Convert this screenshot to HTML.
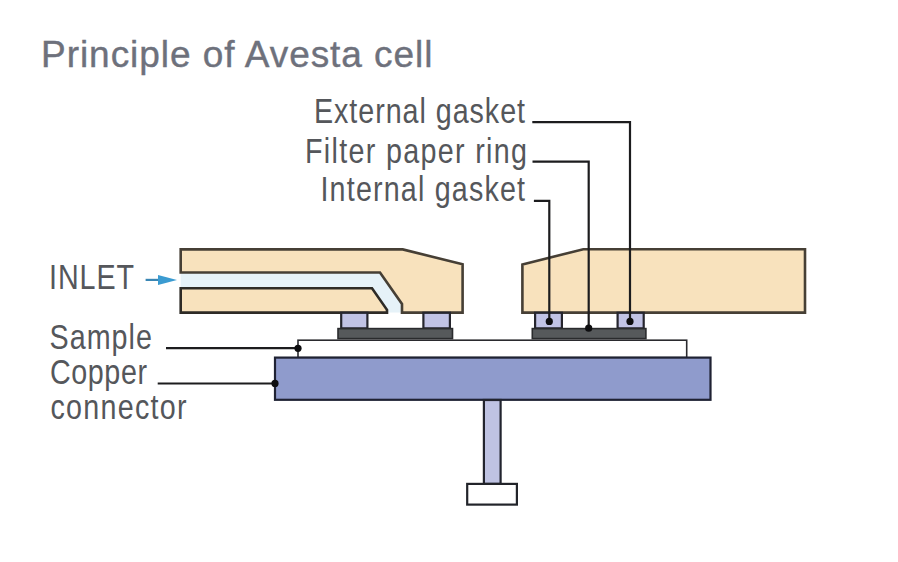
<!DOCTYPE html>
<html><head><meta charset="utf-8">
<style>
html,body{margin:0;padding:0;background:#fff;width:898px;height:562px;overflow:hidden}
svg{display:block}
text{font-family:"Liberation Sans",sans-serif}
</style></head>
<body>
<svg width="898" height="562" viewBox="0 0 898 562">
<rect width="898" height="562" fill="#ffffff"/>
<g fill="#6e717c" stroke="#6e717c" stroke-width="0.4">
<g transform="translate(41.00,66.70) scale(1.0,1)"><text x="0" y="0" font-size="37" textLength="391.50" lengthAdjust="spacing">Principle of Avesta cell</text></g>
</g>
<g fill="#55575b">
<g transform="translate(314.00,122.60) scale(0.82,1)"><text x="0" y="0" font-size="35" textLength="257.32" lengthAdjust="spacing">External gasket</text></g>
<g transform="translate(305.00,162.50) scale(0.82,1)"><text x="0" y="0" font-size="35" textLength="270.73" lengthAdjust="spacing">Filter paper ring</text></g>
<g transform="translate(320.50,201.00) scale(0.82,1)"><text x="0" y="0" font-size="35" textLength="249.39" lengthAdjust="spacing">Internal gasket</text></g>
<g transform="translate(49.00,288.50) scale(0.82,1)"><text x="0" y="0" font-size="35" textLength="103.66" lengthAdjust="spacing">INLET</text></g>
<g transform="translate(49.50,348.50) scale(0.82,1)"><text x="0" y="0" font-size="35" textLength="125.00" lengthAdjust="spacing">Sample</text></g>
<g transform="translate(50.00,384.40) scale(0.82,1)"><text x="0" y="0" font-size="35" textLength="118.29" lengthAdjust="spacing">Copper</text></g>
<g transform="translate(50.50,418.80) scale(0.82,1)"><text x="0" y="0" font-size="35" textLength="165.85" lengthAdjust="spacing">connector</text></g>
</g>

<!-- inlet arrow -->
<line x1="145.6" y1="279.9" x2="160" y2="279.9" stroke="#3a86b4" stroke-width="2.2"/>
<polygon points="158,274.9 177,279.9 158,285" fill="#3b9bd1"/>

<g stroke="#463f35" stroke-width="2.6" stroke-linejoin="miter">
<polygon points="180.7,272.5 380,272.5 402,304 402,312.6 387,312.6 387,309.8 372,288.2 180.7,288.2" fill="#e6f2f8" stroke="none"/>
<polygon points="180.7,249.4 402.7,249.4 462.6,264.3 462.6,312.6 402,312.6 402,304 380,272.5 180.7,272.5" fill="#f8e2bd"/>
<polygon points="180.7,288.2 372,288.2 387,309.8 387,312.6 180.7,312.6" fill="#f8e2bd" stroke="#2e2b26"/>
<polygon points="522.4,264.5 583.3,249.2 805,249.2 805,312.6 522.4,312.6" fill="#f8e2bd"/>
</g>

<g fill="#c1c3e5" stroke="#26262e" stroke-width="2.2">
<rect x="341.2" y="312.8" width="26.2" height="15.6"/>
<rect x="423.4" y="312.8" width="26.5" height="15.6"/>
<rect x="535.1" y="312.8" width="26.8" height="15.6"/>
<rect x="617.6" y="312.8" width="26.1" height="15.6"/>
</g>
<g fill="#56595b" stroke="#2a2b2d" stroke-width="1.6">
<rect x="338" y="328.6" width="114.5" height="10"/>
<rect x="532.3" y="328.6" width="113.6" height="10"/>
</g>

<rect x="298" y="340.2" width="388.7" height="17.4" fill="#ffffff" stroke="#2a2a2e" stroke-width="1.6"/>
<rect x="275" y="357.6" width="435.5" height="42.2" fill="#8f9bcc" stroke="#1f2233" stroke-width="2.2"/>
<rect x="483.9" y="400" width="16.7" height="83.9" fill="#bfc3e3" stroke="#22242e" stroke-width="2.2"/>
<rect x="467.2" y="483.9" width="49.7" height="20.7" fill="#ffffff" stroke="#22242a" stroke-width="2.2"/>

<g fill="none" stroke="#1c1c1e" stroke-width="2.2">
<polyline points="532.3,122.1 630,122.1 630,321.4"/>
<polyline points="532.5,161.6 588.7,161.6 588.7,328.2"/>
<polyline points="533.9,200.8 549.3,200.8 549.3,321.4"/>
<polyline points="166,348.2 298,348.2"/>
<polyline points="157.7,383.5 275,383.5"/>
</g>
<g fill="#0e0e10">
<circle cx="549.3" cy="321.4" r="3.6"/>
<circle cx="588.7" cy="328.2" r="3.6"/>
<circle cx="630" cy="321.4" r="3.6"/>
<circle cx="298" cy="348.3" r="3.6"/>
<circle cx="275" cy="383.4" r="3.6"/>
</g>
</svg>
</body></html>
